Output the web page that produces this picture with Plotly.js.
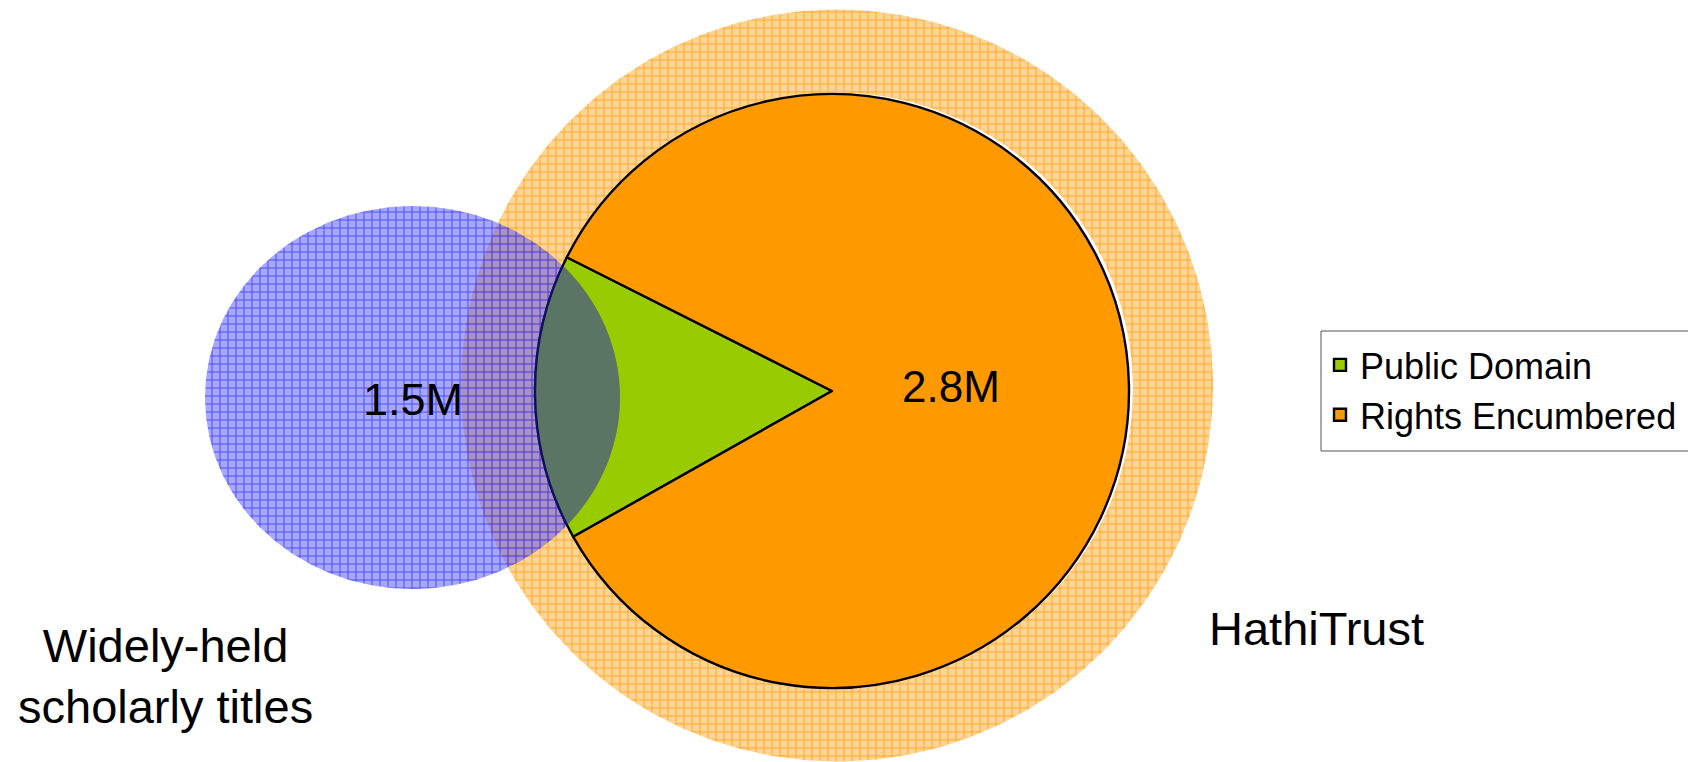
<!DOCTYPE html>
<html>
<head>
<meta charset="utf-8">
<script src="https://cdn.plot.ly/plotly-3.0.1.min.js"></script>
<style>
  html, body { margin: 0; padding: 0; background: #ffffff; }
  #chart { width: 1688px; height: 762px; }
</style>
</head>
<body>
<div id="chart"></div>
<script>
// ---------------- data ----------------
const sliceLabels = ['Public Domain', 'Rights Encumbered'];
const sliceValues = [15.6, 84.4];
const sliceColors = ['#99CC00', '#FF9900'];
const setLabels = ['Widely-held<br>scholarly titles', 'HathiTrust'];
const countLabels = ['1.5M', '2.8M'];

// ---------------- geometry (page pixels) ----------------
const W = 1688, H = 762;
const pieGeo = { cx: 832, cy: 391, r: 297 };
const outerGeo = { cx: 837, cy: 385.5, r: 376 };
const blueGeo = { cx: 412.5, cy: 397.5, rx: 207.5, ry: 191.5 };
const legendBox = { x0: 1321, x1: 1700, y0: 331, y1: 451 };
const FONT = 'Liberation Sans, Arial, Helvetica, sans-serif';

function ellipsePts(cx, cy, rx, ry, n) {
  const xs = [], ys = [];
  for (let i = 0; i <= n; i++) {
    const t = 2 * Math.PI * i / n;
    xs.push(cx + rx * Math.cos(t));
    ys.push(cy + ry * Math.sin(t));
  }
  return { x: xs, y: ys };
}

// intersection of blue ellipse and pie disc (both convex)
function overlapPath() {
  const n = 1440, pts = [];
  const rr = pieGeo.r + 1.2;
  for (let i = 0; i < n; i++) {
    const t = 2 * Math.PI * i / n;
    const ex = blueGeo.cx + blueGeo.rx * Math.cos(t), ey = blueGeo.cy + blueGeo.ry * Math.sin(t);
    if (Math.hypot(ex - pieGeo.cx, ey - pieGeo.cy) <= rr) pts.push([ex, ey]);
    const px = pieGeo.cx + rr * Math.cos(t), py = pieGeo.cy + rr * Math.sin(t);
    const q = ((px - blueGeo.cx) / blueGeo.rx) ** 2 + ((py - blueGeo.cy) / blueGeo.ry) ** 2;
    if (q <= 1) pts.push([px, py]);
  }
  let mx = 0, my = 0;
  pts.forEach(p => { mx += p[0]; my += p[1]; });
  mx /= pts.length; my /= pts.length;
  pts.sort((a, b) => Math.atan2(a[1] - my, a[0] - mx) - Math.atan2(b[1] - my, b[0] - mx));
  return 'M' + pts.map(p => p[0].toFixed(2) + ',' + p[1].toFixed(2)).join('L') + 'Z';
}

const outerPts = ellipsePts(outerGeo.cx, outerGeo.cy, outerGeo.r, outerGeo.r, 360);
const shadowPts = ellipsePts(pieGeo.cx + 4, pieGeo.cy - 1.5, pieGeo.r, pieGeo.r, 360);
const bluePts = ellipsePts(blueGeo.cx, blueGeo.cy, blueGeo.rx, blueGeo.ry, 360);

const noLine = { color: 'rgba(0,0,0,0)', width: 0 };

const traces = [
  {
    type: 'scatter', mode: 'lines', x: outerPts.x, y: outerPts.y,
    fill: 'toself', line: noLine, hoverinfo: 'skip', showlegend: false,
    fillcolor: 'rgba(255,153,0,0.42)',
    fillpattern: { shape: '+', size: 8, solidity: 0.2, fgcolor: '#FF9900', fgopacity: 0.85, bgcolor: 'rgba(255,153,0,0.42)' }
  },
  {
    type: 'scatter', mode: 'lines', x: shadowPts.x, y: shadowPts.y,
    fill: 'toself', line: noLine, hoverinfo: 'skip', showlegend: false,
    fillcolor: '#ffffff'
  },
  {
    type: 'scatter', mode: 'lines', x: bluePts.x, y: bluePts.y,
    fill: 'toself', line: noLine, hoverinfo: 'skip', showlegend: false,
    fillcolor: 'rgba(70,70,255,0.48)',
    fillpattern: { shape: '+', size: 8, solidity: 0.2, fgcolor: '#2222FF', fgopacity: 0.8, bgcolor: 'rgba(70,70,255,0.48)' }
  },
  {
    type: 'pie',
    labels: sliceLabels,
    values: sliceValues,
    sort: false,
    direction: 'clockwise',
    rotation: 240.6,
    textinfo: 'none',
    hoverinfo: 'label+percent',
    marker: { colors: sliceColors, line: { color: '#000000', width: 2.4 } },
    domain: {
      x: [(pieGeo.cx - pieGeo.r) / W, (pieGeo.cx + pieGeo.r) / W],
      y: [1 - (pieGeo.cy + pieGeo.r) / H, 1 - (pieGeo.cy - pieGeo.r) / H]
    }
  }
];

const annFont = (s) => ({ family: FONT, size: s, color: '#000000' });

const layout = {
  width: W, height: H,
  margin: { l: 0, r: 0, t: 0, b: 0, pad: 0, autoexpand: false },
  paper_bgcolor: '#ffffff',
  plot_bgcolor: 'rgba(0,0,0,0)',
  font: { family: FONT, color: '#000000' },
  xaxis: { range: [0, W], visible: false, fixedrange: true },
  yaxis: { range: [H, 0], visible: false, fixedrange: true },
  showlegend: true,
  legend: {
    x: 1320 / W, xanchor: 'left',
    y: 1 - 335 / H, yanchor: 'top',
    bgcolor: 'rgba(0,0,0,0)', borderwidth: 0,
    font: { family: FONT, size: 36, color: '#000000' }
  },
  shapes: [
    {
      type: 'path', xref: 'x', yref: 'y', layer: 'above',
      path: overlapPath(),
      fillcolor: 'rgba(30,30,200,0.5)',
      line: { width: 0 }
    },
    {
      type: 'rect', xref: 'x', yref: 'y', layer: 'above',
      x0: legendBox.x0, x1: legendBox.x1, y0: legendBox.y0, y1: legendBox.y1,
      fillcolor: '#ffffff', line: { color: '#555555', width: 1 }
    }
  ],
  annotations: [
    { xref: 'x', yref: 'y', x: 413, y: 399, text: countLabels[0], showarrow: false, font: annFont(45) },
    { xref: 'x', yref: 'y', x: 951, y: 386.5, text: countLabels[1], showarrow: false, font: annFont(44) },
    { xref: 'x', yref: 'y', x: 165, y: 676, text: setLabels[0], showarrow: false, align: 'center', font: annFont(47) },
    { xref: 'x', yref: 'y', x: 1316, y: 628.5, text: setLabels[1], showarrow: false, font: annFont(47) }
  ]
};

Plotly.newPlot('chart', traces, layout, { staticPlot: true, displayModeBar: false });
</script>
</body>
</html>
